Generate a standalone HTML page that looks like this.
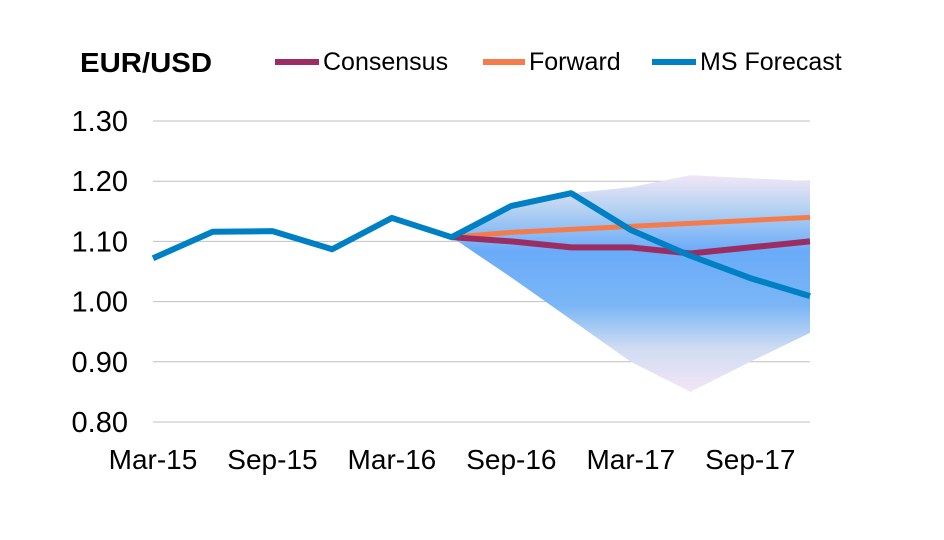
<!DOCTYPE html>
<html><head><meta charset="utf-8"><style>
body{margin:0;background:#fff;}
svg{display:block;font-family:"Liberation Sans",Arial,sans-serif;}
</style></head><body>
<svg id="chart" width="944" height="540">
<defs><linearGradient id="bandGrad" x1="0" y1="0" x2="0" y2="1">
<stop offset="0" stop-color="#f2e6f6"/><stop offset="0.15" stop-color="#b7d3f2"/><stop offset="0.35" stop-color="#6aabf9"/><stop offset="0.6" stop-color="#7ab6f6"/><stop offset="0.8" stop-color="#d0dcf2"/><stop offset="1" stop-color="#f2e6f6"/></linearGradient></defs>
<text x="80" y="72" font-size="28" font-weight="bold" fill="#000" textLength="132" lengthAdjust="spacingAndGlyphs">EUR/USD</text>
<g id="grid"></g><g id="band"></g><g id="lines"></g><g id="yticks"></g><g id="xticks"></g><g id="legend"></g>
</svg>
<script>
const xLabels=["Mar-15","Sep-15","Mar-16","Sep-16","Mar-17","Sep-17"];
const yTicks=[0.80,0.90,1.00,1.10,1.20,1.30];
const msForecast=[1.072,1.116,1.117,1.087,1.139,1.107,1.159,1.180,1.119,1.076,1.039,1.009];
const consensus=[null,null,null,null,null,1.107,1.100,1.090,1.090,1.080,1.090,1.100];
const forward=[null,null,null,null,null,1.107,1.115,1.120,1.125,1.130,1.135,1.140];
const bandUpper=[null,null,null,null,null,1.107,1.159,1.180,1.190,1.210,1.205,1.200];
const bandLower=[null,null,null,null,null,1.107,1.040,0.970,0.900,0.850,0.900,0.948];
const NS="http://www.w3.org/2000/svg";
const x0=153,x1=810,n=msForecast.length;
const xs=i=>x0+(x1-x0)*i/(n-1);
const ys=v=>121+(1.30-v)*(422-121)/0.5;
function mk(tag,attrs,parent){const e=document.createElementNS(NS,tag);for(const k in attrs)e.setAttribute(k,attrs[k]);document.getElementById(parent).appendChild(e);return e;}
yTicks.forEach(v=>{
 const l=mk("line",{x1:x0,x2:x1,y1:ys(v),y2:ys(v),stroke:"#c0c0c0","stroke-width":1},"grid");
 
 
 const t=mk("text",{x:128,y:ys(v)+10,"font-size":29,"text-anchor":"end",fill:"#000"},"yticks");
 t.textContent=v.toFixed(2);
 
 
});
xLabels.forEach((s,i)=>{
 const t=mk("text",{x:xs(i*2),y:469,"font-size":28,"text-anchor":"middle",fill:"#000"},"xticks");
 t.textContent=s;
 
 
});
let up=[],lo=[];
for(let i=0;i<n;i++){if(bandUpper[i]!=null){up.push(xs(i)+","+ys(bandUpper[i]));lo.unshift(xs(i)+","+ys(bandLower[i]));}}
const band=mk("polygon",{points:up.concat(lo).join(" "),fill:"url(#bandGrad)"},"band");


function path(arr){return arr.map((v,i)=>v==null?null:xs(i)+","+ys(v)).filter(p=>p).join(" ");}
const fw=mk("polyline",{points:path(forward),fill:"none",stroke:"#f47c4c","stroke-width":5},"lines");


const cs=mk("polyline",{points:path(consensus),fill:"none",stroke:"#9b2d62","stroke-width":6},"lines");


const ms=mk("polyline",{points:path(msForecast),fill:"none",stroke:"#0080c4","stroke-width":6,"stroke-linejoin":"round"},"lines");


[["Consensus","#9b2d62",275,323],["Forward","#f47c4c",483,529],["MS Forecast","#0080c4",652,700]].forEach(e=>{
 const l=mk("line",{x1:e[2],x2:e[3]-4,y1:62,y2:62,stroke:e[1],"stroke-width":6},"legend");
 
 
 const t=mk("text",{x:e[3],y:70,"font-size":25,fill:"#000"},"legend");
 t.textContent=e[0];
 
 
});
</script>
</body></html>
